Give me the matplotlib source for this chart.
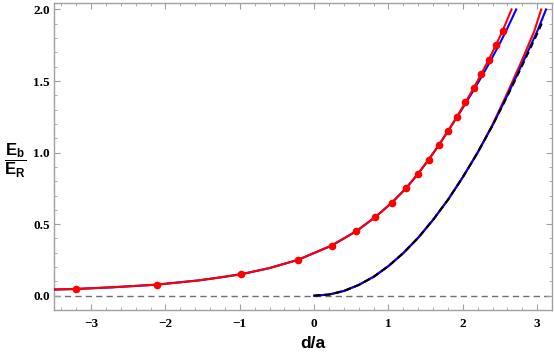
import matplotlib
matplotlib.use("Agg")
import matplotlib.pyplot as plt
from matplotlib.ticker import MultipleLocator

# ---- data ----
upper_red_x = [-3.5, -3.2, -2.7, -2.12, -1.55, -1.3, -0.98, -0.6, -0.22, 0.235, 0.565, 0.825,
               1.045, 1.235, 1.395, 1.54, 1.675, 1.80, 1.92, 2.035, 2.145, 2.25, 2.35,
               2.445, 2.535, 2.655]
upper_red_y = [0.043, 0.047, 0.059, 0.077, 0.107, 0.125, 0.150, 0.193, 0.25, 0.35, 0.45, 0.55,
               0.65, 0.75, 0.85, 0.95, 1.05, 1.15, 1.25, 1.35, 1.45, 1.55, 1.65,
               1.75, 1.85, 2.0]

upper_blue_x = [-3.5, -3.2, -2.7, -2.12, -1.55, -1.3, -0.98, -0.6, -0.22, 0.235, 0.565, 0.825,
                1.045, 1.235, 1.395, 1.54, 1.675, 1.80, 1.925, 2.045, 2.162, 2.275, 2.382,
                2.485, 2.583, 2.718]
upper_blue_y = upper_red_y

dots_x = [-3.2, -2.12, -0.98, -0.22, 0.235, 0.565, 0.825, 1.045, 1.235, 1.395, 1.54,
          1.675, 1.80, 1.92, 2.035, 2.145, 2.25, 2.35, 2.445, 2.535]
dots_y = [0.047, 0.077, 0.150, 0.25, 0.35, 0.45, 0.55, 0.65, 0.75, 0.85, 0.95,
          1.05, 1.15, 1.25, 1.35, 1.45, 1.55, 1.65, 1.75, 1.85]

lower_blue_x = [0.0, 0.2, 0.4, 0.6, 0.8, 1.0, 1.2, 1.4, 1.6, 1.8, 2.0, 2.2, 2.4,
                2.6, 2.8, 3.0, 3.12]
lower_blue_y = [0.0, 0.008, 0.033, 0.075, 0.132, 0.207, 0.298, 0.405, 0.53, 0.67, 0.828,
                1.0, 1.19, 1.40, 1.62, 1.846, 2.0]

lower_red_x = [0.0, 0.2, 0.4, 0.6, 0.8, 1.0, 1.2, 1.4, 1.6, 1.8, 2.0, 2.2, 2.395,
               2.585, 2.775, 2.96, 3.055]
lower_red_y = lower_blue_y

black_x = [0.0, 0.2, 0.4, 0.6, 0.8, 1.0, 1.2, 1.4, 1.6, 1.8, 2.0, 2.2, 2.4,
           2.605, 2.81, 3.015, 3.085]
black_y = [0.0, 0.008, 0.033, 0.075, 0.132, 0.207, 0.298, 0.405, 0.53, 0.67, 0.828,
           1.0, 1.19, 1.40, 1.62, 1.846, 1.93]

x_ticks = [-3, -2, -1, 0, 1, 2, 3]
y_ticks = [0.0, 0.5, 1.0, 1.5, 2.0]

# ---- figure ----
plt.rcParams['mathtext.fontset'] = 'custom'
plt.rcParams['mathtext.bf'] = 'Liberation Sans:bold'
plt.rcParams['mathtext.rm'] = 'Liberation Sans:bold'

fig = plt.figure(figsize=(5.54, 3.58), dpi=100)
ax = fig.add_axes([54/554, 1-310/358, 498/554, 307/358])

ax.axhline(0.0, color='#707070', lw=1.0, ls=(0, (4.5, 3)), zorder=1)

ax.plot(upper_blue_x, upper_blue_y, color='#0000ff', lw=1.5, zorder=3)
ax.plot(upper_red_x, upper_red_y, color='#ff0000', lw=1.5, zorder=4)
ax.plot(dots_x, dots_y, ls='none', marker='o', ms=4.5, color='#ff0000', zorder=5)

ax.plot(lower_red_x, lower_red_y, color='#ff0000', lw=1.5, zorder=3)
ax.plot(lower_blue_x, lower_blue_y, color='#0000ff', lw=1.5, zorder=4)
ax.plot(black_x, black_y, color='black', lw=1.5, ls=(0, (3, 2)), zorder=5)

ax.set_xlim(-3.5, 3.2)
ax.set_ylim(-0.1, 2.045)

ax.set_xticks(x_ticks)
ax.set_yticks(y_ticks)
ax.set_xticklabels([f"{v}".replace('-', '\u2212') for v in x_ticks])
ax.set_yticklabels([f"{v:.1f}" for v in y_ticks])
ax.xaxis.set_minor_locator(MultipleLocator(0.2))
ax.yaxis.set_minor_locator(MultipleLocator(0.1))

for s in ax.spines.values():
    s.set_color('#a0a0a0')
    s.set_linewidth(1.0)

ax.tick_params(which='both', direction='in', top=True, right=True, color='#a0a0a0')
ax.tick_params(which='major', length=4.5, width=0.8)
ax.tick_params(which='minor', length=2.5, width=0.6)
ax.tick_params(axis='x', which='major', pad=6)
ax.tick_params(axis='y', which='major', pad=3)
for lab in ax.get_xticklabels() + ax.get_yticklabels():
    lab.set_fontfamily('Liberation Serif')
    lab.set_fontweight('bold')
    lab.set_fontsize(9.5)

fig.text(313/554, 1-343/358, 'd/a', ha='center', va='center',
         fontfamily='Liberation Sans', fontweight='bold', fontsize=12.5)
fig.text(15/554, 1-161/358, r'$\mathbf{\dfrac{E_b}{E_R}}$', ha='center', va='center',
         fontsize=12)

fig.savefig('out.png', dpi=100)
